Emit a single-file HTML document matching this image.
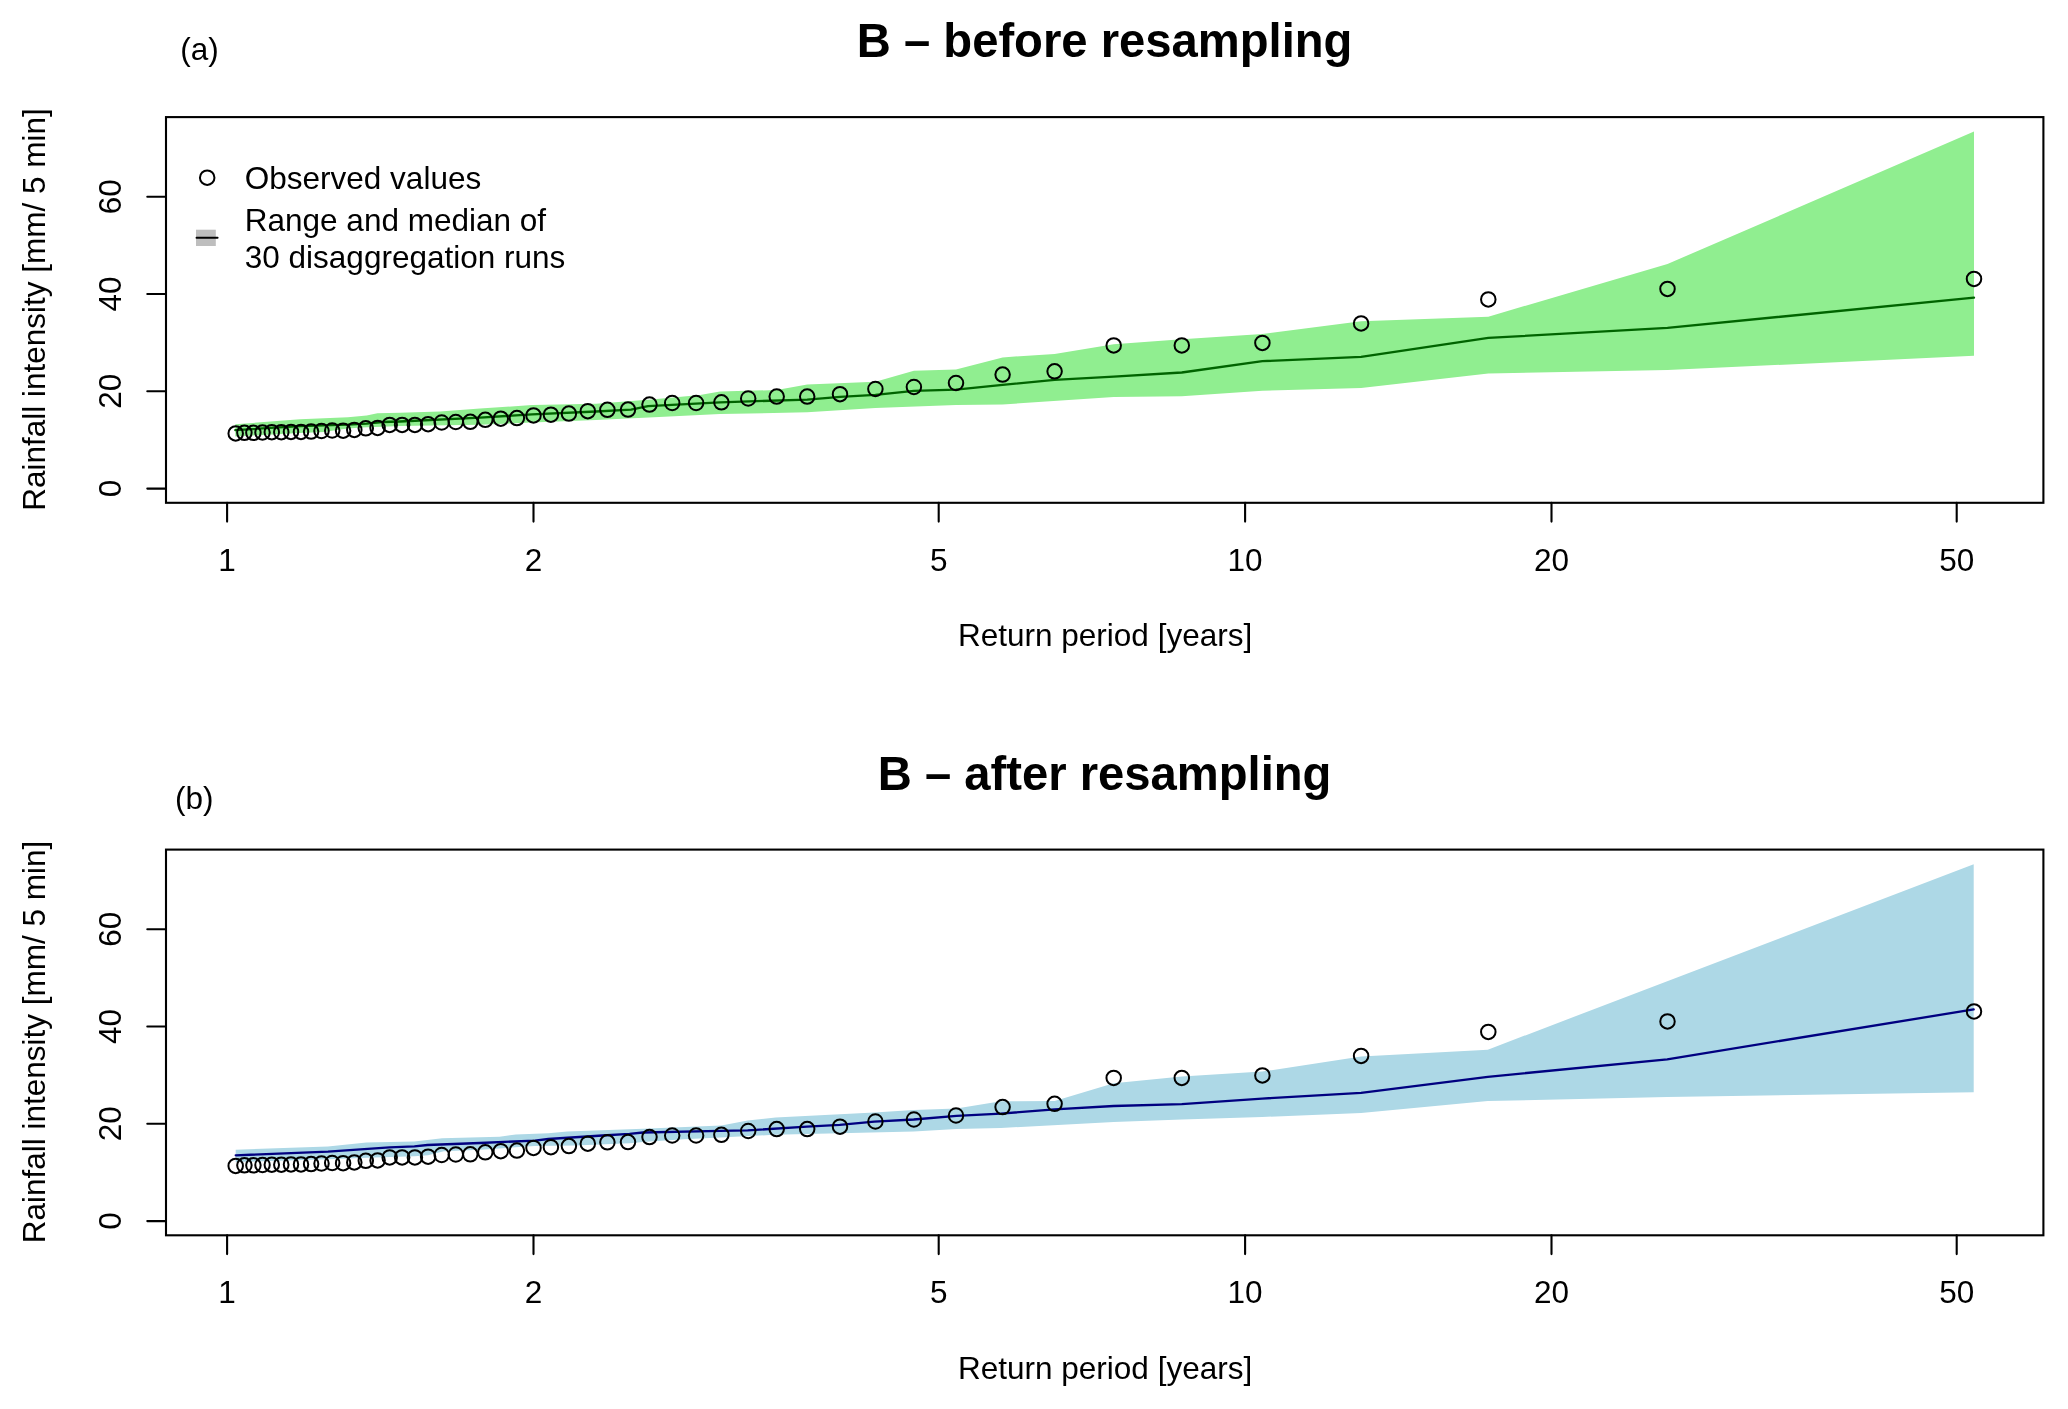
<!DOCTYPE html>
<html><head><meta charset="utf-8"><title>B - before/after resampling</title>
<style>
html,body{margin:0;padding:0;background:#fff;}
body{width:2068px;height:1409px;overflow:hidden;}
svg{display:block;will-change:transform;}
</style></head>
<body>
<svg width="2068" height="1409" viewBox="0 0 2068 1409">
<rect width="2068" height="1409" fill="#fff"/>
<polygon points="235.3,424.3 300.0,419.3 348.0,417.2 366.7,415.5 377.4,413.3 400.0,412.8 440.0,411.5 480.0,408.6 532.0,405.1 596.0,403.7 654.0,399.3 700.0,395.0 720.0,391.6 776.7,390.0 807.2,384.6 875.4,381.8 913.9,370.8 956.0,369.5 1002.6,357.4 1054.6,353.9 1113.7,344.2 1181.8,339.3 1262.4,333.9 1361.1,321.2 1488.3,316.7 1667.5,264.0 1974.0,131.6 1974.0,355.7 1667.5,370.1 1488.3,373.5 1361.1,387.9 1262.4,390.8 1181.8,396.3 1113.7,397.1 1002.6,404.5 956.0,405.0 875.4,408.0 807.2,412.3 720.0,414.0 654.0,417.3 596.0,419.9 532.0,422.5 480.0,424.8 400.0,426.1 382.0,426.8 360.4,427.6 343.5,429.0 324.0,431.9 300.0,432.9 235.3,436.4" fill="#90EE90" stroke="none"/>
<polyline points="235.3,430.1 300.0,426.1 348.0,424.7 366.7,423.7 382.0,422.0 400.0,421.5 480.0,417.6 532.0,414.4 596.0,411.5 631.0,409.7 648.0,406.2 720.0,402.3 807.2,399.6 840.0,396.9 875.4,394.8 913.9,390.8 956.0,389.7 1002.6,384.8 1054.6,379.9 1113.7,376.6 1181.8,372.5 1262.4,361.2 1361.1,356.8 1488.3,337.9 1667.5,327.9 1974.0,297.6" fill="none" stroke="#006400" stroke-width="2.3" stroke-linejoin="round" stroke-linecap="round"/>
<g fill="none" stroke="#000" stroke-width="2.0"><circle cx="235.7" cy="433.4" r="7.25"/><circle cx="244.4" cy="432.8" r="7.25"/><circle cx="253.4" cy="432.8" r="7.25"/><circle cx="262.5" cy="432.5" r="7.25"/><circle cx="271.8" cy="432.2" r="7.25"/><circle cx="281.3" cy="432.2" r="7.25"/><circle cx="291.0" cy="431.9" r="7.25"/><circle cx="301.0" cy="431.9" r="7.25"/><circle cx="311.1" cy="431.6" r="7.25"/><circle cx="321.5" cy="431.0" r="7.25"/><circle cx="332.2" cy="430.5" r="7.25"/><circle cx="343.1" cy="430.7" r="7.25"/><circle cx="354.3" cy="429.9" r="7.25"/><circle cx="365.8" cy="428.3" r="7.25"/><circle cx="377.6" cy="427.9" r="7.25"/><circle cx="389.7" cy="424.9" r="7.25"/><circle cx="402.1" cy="424.9" r="7.25"/><circle cx="414.9" cy="424.9" r="7.25"/><circle cx="428.1" cy="424.2" r="7.25"/><circle cx="441.7" cy="422.5" r="7.25"/><circle cx="455.8" cy="422.0" r="7.25"/><circle cx="470.3" cy="421.8" r="7.25"/><circle cx="485.3" cy="419.8" r="7.25"/><circle cx="500.8" cy="418.7" r="7.25"/><circle cx="516.9" cy="418.1" r="7.25"/><circle cx="533.5" cy="415.4" r="7.25"/><circle cx="550.9" cy="414.7" r="7.25"/><circle cx="568.9" cy="413.6" r="7.25"/><circle cx="587.8" cy="411.2" r="7.25"/><circle cx="607.4" cy="409.8" r="7.25"/><circle cx="628.0" cy="409.6" r="7.25"/><circle cx="649.5" cy="404.6" r="7.25"/><circle cx="672.2" cy="403.0" r="7.25"/><circle cx="696.1" cy="403.0" r="7.25"/><circle cx="721.4" cy="402.3" r="7.25"/><circle cx="748.2" cy="398.5" r="7.25"/><circle cx="776.7" cy="396.6" r="7.25"/><circle cx="807.2" cy="396.6" r="7.25"/><circle cx="840.0" cy="394.2" r="7.25"/><circle cx="875.4" cy="389.0" r="7.25"/><circle cx="913.9" cy="387.0" r="7.25"/><circle cx="956.0" cy="383.0" r="7.25"/><circle cx="1002.6" cy="374.6" r="7.25"/><circle cx="1054.6" cy="371.3" r="7.25"/><circle cx="1113.7" cy="345.4" r="7.25"/><circle cx="1181.8" cy="345.4" r="7.25"/><circle cx="1262.4" cy="342.9" r="7.25"/><circle cx="1361.1" cy="323.4" r="7.25"/><circle cx="1488.3" cy="299.4" r="7.25"/><circle cx="1667.5" cy="288.9" r="7.25"/><circle cx="1974.0" cy="278.9" r="7.25"/></g>
<rect x="166.0" y="117.1" width="1877.4" height="385.7" fill="none" stroke="#000" stroke-width="2.1"/>
<path d="M227.1,502.8V521.6M533.5,502.8V521.6M938.7,502.8V521.6M1245.1,502.8V521.6M1551.5,502.8V521.6M1956.7,502.8V521.6M166.0,488.6H147.3M166.0,391.3H147.3M166.0,294.0H147.3M166.0,196.7H147.3" stroke="#000" stroke-width="2.1" stroke-linecap="round" fill="none"/>
<g font-family="'Liberation Sans', Arial, Helvetica, sans-serif" font-size="31.5" fill="#000"><text x="227.1" y="570.9" text-anchor="middle">1</text><text x="533.5" y="570.9" text-anchor="middle">2</text><text x="938.7" y="570.9" text-anchor="middle">5</text><text x="1245.1" y="570.9" text-anchor="middle">10</text><text x="1551.5" y="570.9" text-anchor="middle">20</text><text x="1956.7" y="570.9" text-anchor="middle">50</text><text transform="translate(121.2,488.6) rotate(-90)" text-anchor="middle">0</text><text transform="translate(121.2,391.3) rotate(-90)" text-anchor="middle">20</text><text transform="translate(121.2,294.0) rotate(-90)" text-anchor="middle">40</text><text transform="translate(121.2,196.7) rotate(-90)" text-anchor="middle">60</text><text x="1105.1" y="646.2" text-anchor="middle">Return period [years]</text><text transform="translate(44.8,309.5) rotate(-90)" text-anchor="middle">Rainfall intensity [mm/ 5 min]</text><text x="180.3" y="60.3">(a)</text></g>
<text x="1104.6" y="57.4" text-anchor="middle" font-family="'Liberation Sans', Arial, Helvetica, sans-serif" font-size="47.2" font-weight="bold">B – before resampling</text>
<circle cx="207.2" cy="177.7" r="7.25" fill="none" stroke="#000" stroke-width="2.0"/>
<rect x="196.0" y="229.7" width="19.8" height="16.3" fill="#BEBEBE"/>
<path d="M196.5,237.8H217.6" stroke="#000" stroke-width="1.9" stroke-linecap="round"/>
<g font-family="'Liberation Sans', Arial, Helvetica, sans-serif" font-size="31.5" fill="#000"><text x="244.8" y="189.1">Observed values</text><text x="244.8" y="230.6">Range and median of</text><text x="244.8" y="268.2">30 disaggregation runs</text></g>
<polygon points="235.7,1149.7 328.0,1146.4 366.4,1142.4 414.4,1141.6 442.2,1138.3 480.0,1137.3 499.6,1136.8 515.8,1134.5 548.3,1133.2 567.3,1131.4 643.0,1128.7 721.4,1125.4 747.7,1120.5 775.6,1117.5 874.3,1112.6 913.7,1110.1 956.5,1108.5 1000.9,1101.2 1054.6,1101.0 1113.7,1083.2 1181.8,1076.4 1262.1,1071.6 1361.1,1056.6 1487.8,1049.7 1973.7,864.2 1973.7,1092.2 1667.2,1096.9 1487.8,1101.1 1361.1,1112.9 1262.1,1117.0 1181.8,1119.5 1113.7,1121.9 1000.9,1128.0 956.5,1129.1 913.7,1131.5 839.8,1133.2 774.0,1134.8 720.0,1137.6 683.7,1139.3 643.0,1142.0 629.5,1143.3 575.4,1145.4 534.8,1146.0 480.0,1149.8 443.8,1151.3 428.0,1155.2 414.4,1156.3 374.2,1157.5 328.0,1159.3 235.7,1162.1" fill="#ADD8E6" stroke="none"/>
<polyline points="235.7,1155.3 328.0,1151.6 389.6,1147.4 414.4,1146.3 427.5,1145.0 480.0,1143.0 534.8,1140.6 548.3,1139.0 602.5,1135.5 629.5,1133.8 643.0,1132.5 720.0,1130.9 747.7,1130.4 806.9,1126.6 839.8,1124.9 874.3,1121.7 913.7,1119.5 956.5,1115.9 1000.9,1113.6 1054.6,1109.3 1113.7,1106.0 1181.8,1104.1 1262.1,1098.6 1361.1,1092.8 1487.8,1076.8 1667.2,1059.3 1973.7,1009.4" fill="none" stroke="#000080" stroke-width="2.3" stroke-linejoin="round" stroke-linecap="round"/>
<g fill="none" stroke="#000" stroke-width="2.0"><circle cx="235.7" cy="1165.9" r="7.25"/><circle cx="244.4" cy="1165.3" r="7.25"/><circle cx="253.4" cy="1165.3" r="7.25"/><circle cx="262.5" cy="1165.0" r="7.25"/><circle cx="271.8" cy="1164.7" r="7.25"/><circle cx="281.3" cy="1164.7" r="7.25"/><circle cx="291.0" cy="1164.4" r="7.25"/><circle cx="301.0" cy="1164.4" r="7.25"/><circle cx="311.1" cy="1164.1" r="7.25"/><circle cx="321.5" cy="1163.5" r="7.25"/><circle cx="332.2" cy="1163.0" r="7.25"/><circle cx="343.1" cy="1163.2" r="7.25"/><circle cx="354.3" cy="1162.4" r="7.25"/><circle cx="365.8" cy="1160.8" r="7.25"/><circle cx="377.6" cy="1160.4" r="7.25"/><circle cx="389.7" cy="1157.4" r="7.25"/><circle cx="402.1" cy="1157.4" r="7.25"/><circle cx="414.9" cy="1157.4" r="7.25"/><circle cx="428.1" cy="1156.7" r="7.25"/><circle cx="441.7" cy="1155.0" r="7.25"/><circle cx="455.8" cy="1154.5" r="7.25"/><circle cx="470.3" cy="1154.3" r="7.25"/><circle cx="485.3" cy="1152.3" r="7.25"/><circle cx="500.8" cy="1151.2" r="7.25"/><circle cx="516.9" cy="1150.6" r="7.25"/><circle cx="533.5" cy="1147.9" r="7.25"/><circle cx="550.9" cy="1147.2" r="7.25"/><circle cx="568.9" cy="1146.1" r="7.25"/><circle cx="587.8" cy="1143.7" r="7.25"/><circle cx="607.4" cy="1142.3" r="7.25"/><circle cx="628.0" cy="1142.1" r="7.25"/><circle cx="649.5" cy="1137.1" r="7.25"/><circle cx="672.2" cy="1135.5" r="7.25"/><circle cx="696.1" cy="1135.5" r="7.25"/><circle cx="721.4" cy="1134.8" r="7.25"/><circle cx="748.2" cy="1131.0" r="7.25"/><circle cx="776.7" cy="1129.1" r="7.25"/><circle cx="807.2" cy="1129.1" r="7.25"/><circle cx="840.0" cy="1126.7" r="7.25"/><circle cx="875.4" cy="1121.5" r="7.25"/><circle cx="913.9" cy="1119.5" r="7.25"/><circle cx="956.0" cy="1115.5" r="7.25"/><circle cx="1002.6" cy="1107.1" r="7.25"/><circle cx="1054.6" cy="1103.8" r="7.25"/><circle cx="1113.7" cy="1077.9" r="7.25"/><circle cx="1181.8" cy="1077.9" r="7.25"/><circle cx="1262.4" cy="1075.4" r="7.25"/><circle cx="1361.1" cy="1055.9" r="7.25"/><circle cx="1488.3" cy="1031.9" r="7.25"/><circle cx="1667.5" cy="1021.4" r="7.25"/><circle cx="1974.0" cy="1011.4" r="7.25"/></g>
<rect x="166.0" y="849.6" width="1877.4" height="385.7" fill="none" stroke="#000" stroke-width="2.1"/>
<path d="M227.1,1235.3V1254.1M533.5,1235.3V1254.1M938.7,1235.3V1254.1M1245.1,1235.3V1254.1M1551.5,1235.3V1254.1M1956.7,1235.3V1254.1M166.0,1221.1H147.3M166.0,1123.8H147.3M166.0,1026.5H147.3M166.0,929.2H147.3" stroke="#000" stroke-width="2.1" stroke-linecap="round" fill="none"/>
<g font-family="'Liberation Sans', Arial, Helvetica, sans-serif" font-size="31.5" fill="#000"><text x="227.1" y="1303.4" text-anchor="middle">1</text><text x="533.5" y="1303.4" text-anchor="middle">2</text><text x="938.7" y="1303.4" text-anchor="middle">5</text><text x="1245.1" y="1303.4" text-anchor="middle">10</text><text x="1551.5" y="1303.4" text-anchor="middle">20</text><text x="1956.7" y="1303.4" text-anchor="middle">50</text><text transform="translate(121.2,1221.1) rotate(-90)" text-anchor="middle">0</text><text transform="translate(121.2,1123.8) rotate(-90)" text-anchor="middle">20</text><text transform="translate(121.2,1026.5) rotate(-90)" text-anchor="middle">40</text><text transform="translate(121.2,929.2) rotate(-90)" text-anchor="middle">60</text><text x="1105.1" y="1378.7" text-anchor="middle">Return period [years]</text><text transform="translate(44.8,1042.0) rotate(-90)" text-anchor="middle">Rainfall intensity [mm/ 5 min]</text><text x="175.0" y="809.4">(b)</text></g>
<text x="1104.6" y="789.9" text-anchor="middle" font-family="'Liberation Sans', Arial, Helvetica, sans-serif" font-size="47.2" font-weight="bold">B – after resampling</text>
</svg>
</body></html>
